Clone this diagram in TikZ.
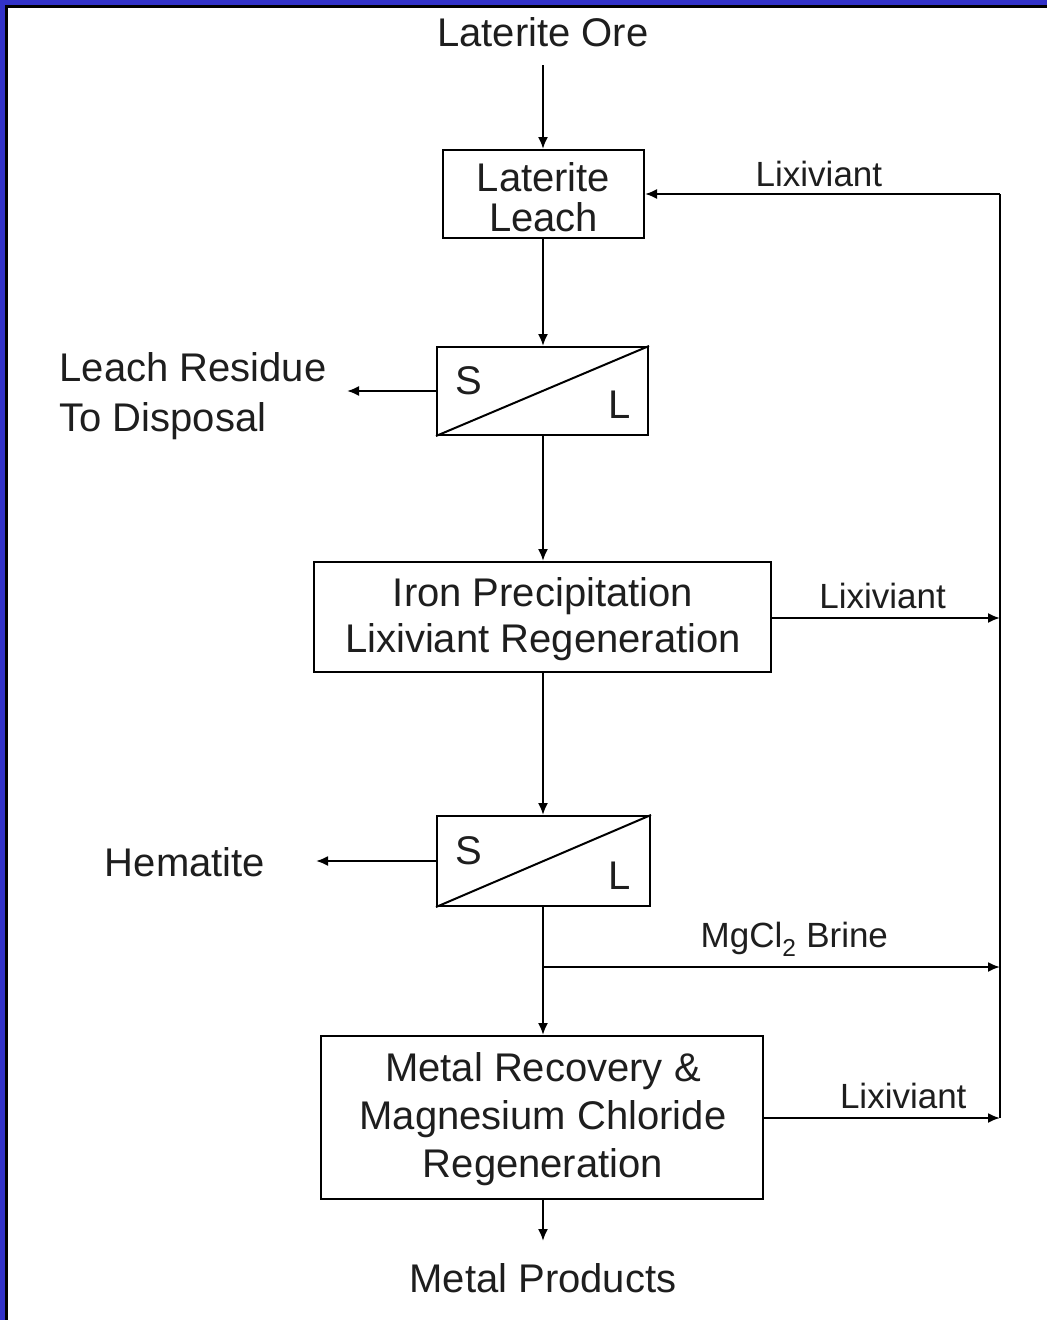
\documentclass[tikz,border=0pt]{standalone}
\usepackage{fontspec}
\setmainfont{Liberation Sans}
\usetikzlibrary{arrows.meta}
\definecolor{frameblue}{RGB}{50,50,200}
\definecolor{txt}{RGB}{30,30,30}
\begin{document}
\begin{tikzpicture}[x=1pt,y=-1pt,
  big/.style={font=\fontsize{40}{46}\selectfont, text=txt, inner sep=0pt, align=center},
  small/.style={font=\fontsize{35}{40}\selectfont, text=txt, inner sep=0pt},
  procbox/.style={draw, line width=2pt, inner sep=0pt},
  flow/.style={line width=2pt, -{Latex[length=12pt,width=10pt]}},
  plain/.style={line width=2pt}
]
\useasboundingbox (0,0) rectangle (1047,1320);
\fill[white] (0,0) rectangle (1047,1320);
\fill[frameblue] (0,0) rectangle (1047,5);
\fill[frameblue] (0,0) rectangle (5,1320);
\fill[black] (5,5) rectangle (1047,7.5);
\fill[black] (5,5) rectangle (7.5,1320);

% nodes
\node[big] (ore) at (543,32) {Laterite Ore};
\node[procbox, minimum width=201pt, minimum height=88pt] (leach) at (543.5,194) {};
\node[big, font=\fontsize{40}{40}\selectfont] (leachtxt) at (543.5,197) {Laterite\\Leach};

\node[procbox, minimum width=211pt, minimum height=88pt] (sl1) at (542.5,391) {};
\node[big] (s1) at (469,381) {S};
\node[big] (l1) at (620,405) {L};
\node[big, align=left, font=\fontsize{40}{50}\selectfont] (resid) at (193,396) {Leach Residue\\To Disposal};
\coordinate (residend) at (347,391);

\node[procbox, minimum width=457pt, minimum height=110pt] (iron) at (542.5,617) {};
\node[big] (irontxt) at (543,619) {Iron Precipitation\\Lixiviant Regeneration};

\node[procbox, minimum width=213pt, minimum height=90pt] (sl2) at (543.5,861) {};
\node[big] (s2) at (469,851) {S};
\node[big] (l2) at (620,876) {L};
\node[big] (hem) at (185,862) {Hematite};
\coordinate (hemend) at (316,861);

\coordinate (branch) at (543,967);
\node[procbox, minimum width=442pt, minimum height=163pt] (rec) at (542,1117.5) {};
\node[big, font=\fontsize{40}{48}\selectfont] (rectxt) at (543,1119) {Metal Recovery \&\\Magnesium Chloride\\Regeneration};
\node[big] (prod) at (543,1278) {Metal Products};
\coordinate (prodend) at (543,1241);

% right-hand return line
\coordinate (rtop) at (1000,194);
\coordinate (riron) at (1000,618);
\coordinate (rbrine) at (1000,967);
\coordinate (rbot) at (1000,1118);

% connectors
\draw[flow] (543,65) -- (leach.north -| 543,0);
\draw[flow] (leach.south -| 543,0) -- (sl1.north -| 543,0);
\draw[flow] (sl1.west) -- (residend);
\draw[plain] (sl1.south west) -- (sl1.north east);
\draw[flow] (sl1.south -| 543,0) -- (iron.north -| 543,0);
\draw[flow] (iron.south -| 543,0) -- (sl2.north -| 543,0);
\draw[flow] (sl2.west) -- (hemend);
\draw[plain] (sl2.south west) -- (sl2.north east);
\draw[flow] (sl2.south -| 543,0) -- (rec.north -| 543,0);
\draw[flow] (branch) -- node[small, above=10pt, pos=0.55] (brinelbl) {MgCl\textsubscript{2} Brine} (rbrine);
\draw[flow] (rec.south -| 543,0) -- (prodend);

\draw[flow] (iron.east |- riron) -- node[small, above=8pt, pos=0.485] (lix2) {Lixiviant} (riron);
\draw[flow] (rec.east |- rbot) -- node[small, above=8pt, pos=0.59] (lix3) {Lixiviant} (rbot);
\draw[plain] (rbot) -- (rtop);
\draw[flow] (rtop) -- node[small, above=6pt, pos=0.51] (lix1) {Lixiviant} (leach.east);
\end{tikzpicture}
\end{document}
